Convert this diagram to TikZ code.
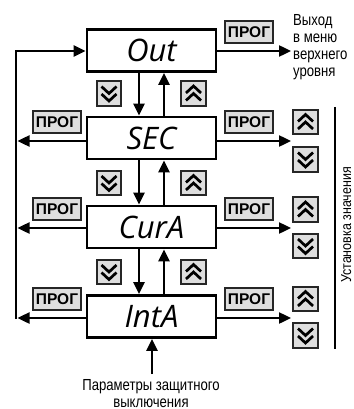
\documentclass[tikz,border=0pt]{standalone}
\usepackage{fontspec}
\setmainfont{Liberation Sans}
\newfontfamily\boxfont{Open Sans}
\usetikzlibrary{arrows.meta,calc}
\newcommand\nartxt[1]{\scalebox{0.82}[1]{#1}}
\tikzset{
  box/.style={draw, line width=2.8pt, minimum width=129pt, minimum height=42pt, inner sep=0pt,
    font=\boxfont\itshape\fontsize{31}{31}\selectfont},
  arr/.style={line width=2.4pt, -{Triangle[length=12pt,width=11pt]}},
  ln/.style={line width=2.4pt},
  badge/.style={draw=black!85, fill=black!13, line width=1.8pt, minimum width=48pt, minimum height=22pt,
    inner sep=0pt, font=\bfseries\fontsize{15.5}{15.5}\selectfont},
  btn/.style={draw=black!85, fill=black!13, line width=1.9pt, minimum size=24.5pt, inner sep=0pt},
  chev/.style={line width=2.7pt},
  lbl/.style={font=\fontsize{16}{17}\selectfont, inner sep=0pt},
  dnbtn/.pic={\node[btn] (-b) {}; \draw[chev] (-7.5,-7)--(0,0)--(7.5,-7) (-7.5,0.5)--(0,7.5)--(7.5,0.5);},
  upbtn/.pic={\node[btn] (-b) {}; \draw[chev] (-7.5,7)--(0,0)--(7.5,7) (-7.5,-0.5)--(0,-7.5)--(7.5,-0.5);}
}
\begin{document}
\begin{tikzpicture}[x=1pt,y=-1pt]
\useasboundingbox (0,0) rectangle (353,409);
% main boxes
\node[box] (out)  at (151.5,50.5) {Out};
\node[box] (sec)  at (151.5,138)  {SEC};
\node[box] (cura) at (151.5,227)  {CurA};
\node[box] (inta) at (151.5,316.5){IntA};
% helper coordinates
\coordinate (L)  at (16,0);
\coordinate (Lt) at (17.5,0);
\coordinate (R)  at (291,0);
\coordinate (dn) at (139,0);
\coordinate (up) at (164,0);
\coordinate (yo) at (0,51);
\coordinate (ys) at (0,141);
\coordinate (yc) at (0,228);
\coordinate (yi) at (0,318);
% vertical arrows between boxes
\draw[arr] (out.south -| dn) -- (sec.north -| dn);
\draw[arr] (sec.north -| up) -- (out.south -| up);
\draw[arr] (sec.south -| dn) -- (cura.north -| dn);
\draw[arr] (cura.north -| up) -- (sec.south -| up);
\draw[arr] (cura.south -| dn) -- (inta.north -| dn);
\draw[arr] (inta.north -| up) -- (cura.south -| up);
% left loop
\draw[arr] ($(L |- yi)+(0,1.2)$) -- (L |- yo) -- (out.west |- yo);
\draw[arr] (sec.west |- ys) -- (Lt |- ys);
\draw[arr] (cura.west |- yc) -- (Lt |- yc);
\draw[arr] (inta.west |- yi) -- (Lt |- yi);
% right arrows
\draw[arr] (out.east |- yo) -- (R |- yo);
\draw[arr] (sec.east |- ys) -- (R |- ys);
\draw[arr] (cura.east |- yc) -- (R |- yc);
\draw[arr] (inta.east |- yi) -- (R |- yi);
% badges
\node[badge] (bl1) at (57,122) {ПРОГ};
\node[badge] (bl2) at (57,209) {ПРОГ};
\node[badge] (bl3) at (57,299) {ПРОГ};
\node[badge] (br0) at (249,32)  {ПРОГ};
\node[badge] (br1) at (249,122) {ПРОГ};
\node[badge] (br2) at (249,209) {ПРОГ};
\node[badge] (br3) at (249,299) {ПРОГ};
% buttons between boxes
\pic (d1) at (109,93.5) {dnbtn};
\pic (d2) at (109,183)  {dnbtn};
\pic (d3) at (109,272)  {dnbtn};
\pic (u1) at (193.5,93.5) {upbtn};
\pic (u2) at (193.5,183)  {upbtn};
\pic (u3) at (193.5,272)  {upbtn};
% value buttons on the right
\pic (ru1) at (305.5,122) {upbtn};
\pic (rd1) at (305.5,159.5) {dnbtn};
\pic (ru2) at (305.5,209.5) {upbtn};
\pic (rd2) at (305.5,246) {dnbtn};
\pic (ru3) at (305.5,299) {upbtn};
\pic (rd3) at (305.5,335.5) {dnbtn};
% right bracket line and label
\coordinate (vt) at (334.5,107);
\coordinate (vb) at (334.5,349);
\draw[line width=2pt] (vt) -- (vb);
\node[font=\fontsize{14.5}{15}\selectfont, inner sep=0pt, rotate=90] (set) at (346.3,225)
  {\scalebox{0.86}[1]{Установка значения}};
% exit label
\node[lbl, anchor=north west] (exit) at (293,13)
  {\nartxt{\begin{tabular}{@{}l@{}}Выход\\в меню\\верхнего\\уровня\end{tabular}}};
% bottom label and arrow
\node[lbl, anchor=north] (par) at (151,378)
  {\nartxt{\begin{tabular}{@{}c@{}}Параметры защитного\\выключения\end{tabular}}};
\coordinate (src) at (152,374);
\draw[arr] (src) -- (inta.south -| src);
\end{tikzpicture}
\end{document}
